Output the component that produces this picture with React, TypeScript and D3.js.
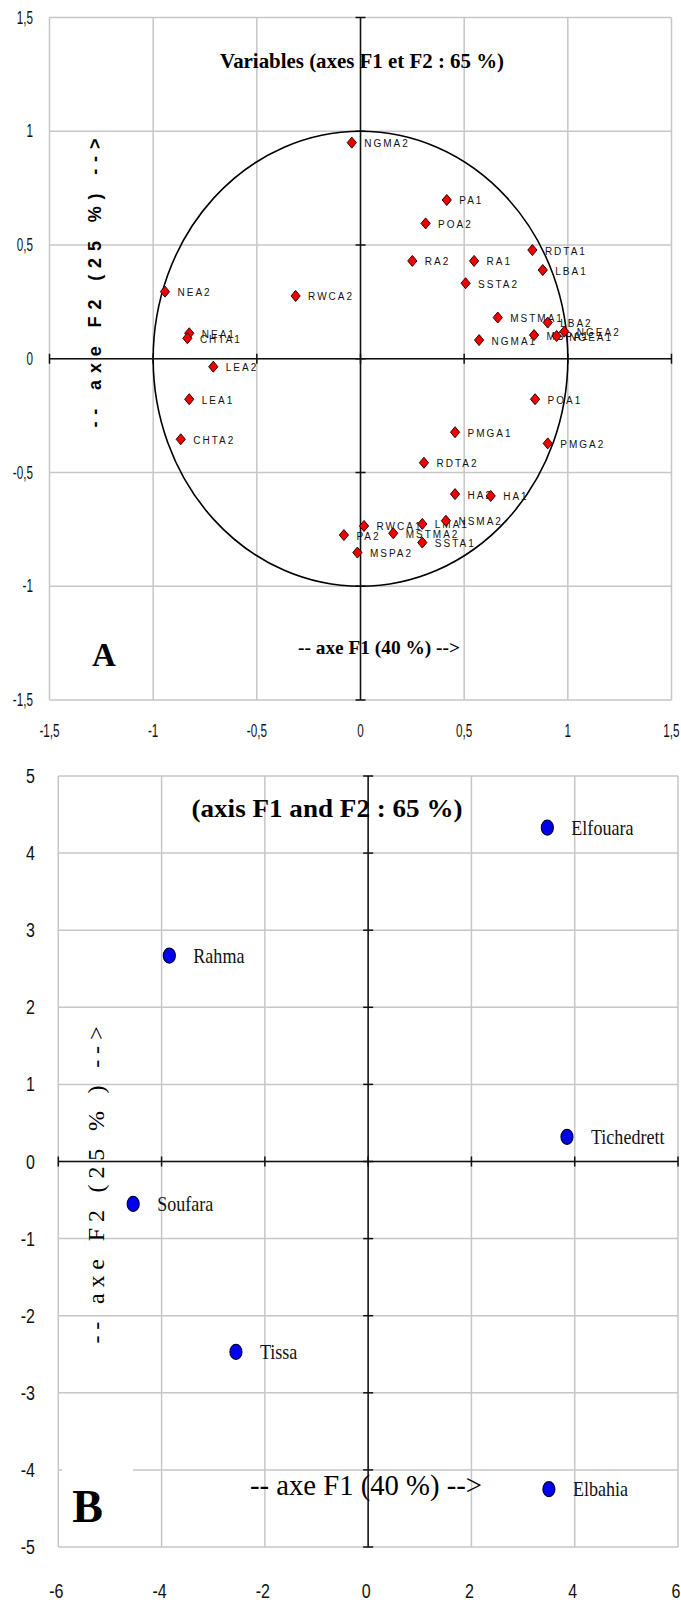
import React from 'react';
import * as d3 from 'd3';

// variables (chart A, correlation circle)
const varNames = ['NGMA2', 'PA1', 'POA2', 'RA2', 'RA1', 'SSTA2', 'RDTA1', 'LBA1', 'MSTMA1', 'LBA2', 'NGMA1', 'MSPA1', 'NGEA1', 'NGEA2', 'POA1', 'PMGA1', 'PMGA2', 'RDTA2', 'HA2', 'HA1', 'RWCA1', 'PA2', 'MSTMA2', 'LMA1', 'NSMA2', 'SSTA1', 'MSPA2', 'NEA2', 'RWCA2', 'NEA1', 'CHTA1', 'LEA2', 'LEA1', 'CHTA2'];
const varF1 = [-0.042, 0.416, 0.314, 0.25, 0.548, 0.507, 0.829, 0.879, 0.662, 0.903, 0.572, 0.837, 0.946, 0.983, 0.842, 0.456, 0.903, 0.306, 0.456, 0.628, 0.017, -0.08, 0.158, 0.298, 0.412, 0.298, -0.015, -0.943, -0.313, -0.826, -0.835, -0.71, -0.826, -0.867];
const varF2 = [0.95, 0.698, 0.595, 0.43, 0.43, 0.332, 0.478, 0.39, 0.181, 0.159, 0.082, 0.104, 0.1, 0.119, -0.178, -0.323, -0.372, -0.457, -0.595, -0.603, -0.735, -0.775, -0.767, -0.726, -0.712, -0.808, -0.852, 0.295, 0.276, 0.112, 0.09, -0.035, -0.178, -0.354];

// sites (chart B)
const siteNames = ['Elfouara', 'Rahma', 'Tichedrett', 'Soufara', 'Tissa', 'Elbahia'];
const siteF1 = [3.47, -3.85, 3.85, -4.55, -2.56, 3.5];
const siteF2 = [4.33, 2.67, 0.32, -0.55, -2.47, -4.25];

const ticksA = [-1.5, -1, -0.5, 0, 0.5, 1, 1.5];
const ticksBx = [-6, -4, -2, 0, 2, 4, 6];
const ticksBy = [-5, -4, -3, -2, -1, 0, 1, 2, 3, 4, 5];

const serif = '"Liberation Serif", "Times New Roman", serif';
const sans = '"Liberation Sans", Arial, sans-serif';
const grid = '#c6c6c6';
const fmt = (d: number) => String(d).replace('.', ',');

const App = () => {
  const xA = d3.scaleLinear().domain([-1.5, 1.5]).range([49.5, 671.5]);
  const yA = d3.scaleLinear().domain([-1.5, 1.5]).range([700, 17.5]);
  const xB = d3.scaleLinear().domain([-6, 6]).range([58.3, 678]);
  const yB = d3.scaleLinear().domain([-5, 5]).range([1547, 776]);

  const vars = varNames.map((n, i) => ({ n, x: varF1[i], y: varF2[i] }));
  const sites = siteNames.map((n, i) => ({ n, x: siteF1[i], y: siteF2[i] }));

  return (
    <div style={{ position: 'absolute', left: 0, top: 0 }}>
      <svg width={681} height={1602} style={{ display: 'block', background: '#fff' }}>
        {/* ---------- chart A ---------- */}
        <g>
          {ticksA.map(t => (
            <line key={'gx' + t} x1={xA(t)} x2={xA(t)} y1={yA(1.5)} y2={yA(-1.5)} stroke={grid} strokeWidth={1.5} />
          ))}
          {ticksA.map(t => (
            <line key={'gy' + t} x1={xA(-1.5)} x2={xA(1.5)} y1={yA(t)} y2={yA(t)} stroke={grid} strokeWidth={1.5} />
          ))}
          {/* axes through origin */}
          <line x1={xA(-1.5)} x2={xA(1.5)} y1={yA(0)} y2={yA(0)} stroke="#111" strokeWidth={1.5} />
          <line x1={xA(0)} x2={xA(0)} y1={yA(1.5)} y2={yA(-1.5)} stroke="#111" strokeWidth={1.5} />
          {ticksA.map(t => (
            <line key={'tx' + t} x1={xA(t)} x2={xA(t)} y1={yA(0) - 5} y2={yA(0) + 5} stroke="#111" strokeWidth={1.5} />
          ))}
          {ticksA.map(t => (
            <line key={'ty' + t} x1={xA(0) - 5} x2={xA(0) + 5} y1={yA(t)} y2={yA(t)} stroke="#111" strokeWidth={1.5} />
          ))}
          {/* unit circle */}
          <ellipse cx={xA(0)} cy={yA(0)} rx={xA(1) - xA(0)} ry={yA(0) - yA(1)} fill="none" stroke="#000" strokeWidth={1.6} />

          {/* tick labels */}
          {ticksA.map(t => (
            <text key={'ly' + t} transform={`translate(33,${yA(t) + 6}) scale(0.65,1)`} textAnchor="end" fontFamily={sans} fontSize={18} fill="#111">{fmt(t)}</text>
          ))}
          {ticksA.map(t => (
            <text key={'lx' + t} transform={`translate(${xA(t)},736.5) scale(0.65,1)`} textAnchor="middle" fontFamily={sans} fontSize={18} fill="#111">{fmt(t)}</text>
          ))}

          {/* variables */}
          {vars.map(v => (
            <g key={v.n} transform={`translate(${xA(v.x)},${yA(v.y)})`}>
              <path d="M0,-5.5L4.6,0L0,5.5L-4.6,0Z" fill="#f00000" stroke="#300" strokeWidth={1} />
              <text x={12.5} y={4.5} fontFamily={sans} fontSize={10} letterSpacing={2} fill="#111">{v.n}</text>
            </g>
          ))}

          <text x={362} y={68} textAnchor="middle" fontFamily={serif} fontWeight="bold" fontSize={22} textLength={284} lengthAdjust="spacingAndGlyphs">Variables (axes F1 et F2 : 65 %)</text>
          <text x={379} y={654} textAnchor="middle" fontFamily={serif} fontWeight="bold" fontSize={19} textLength={162} lengthAdjust="spacingAndGlyphs">-- axe F1 (40 %) --&gt;</text>
          <text transform="translate(95,283) rotate(-90)" textAnchor="middle" dominantBaseline="central" fontFamily={sans} fontWeight="bold" fontSize={18} textLength={289}>-- axe F2 (25 %) --&gt;</text>
          <text x={104} y={666} textAnchor="middle" fontFamily={serif} fontWeight="bold" fontSize={33}>A</text>
        </g>

        {/* ---------- chart B ---------- */}
        <g>
          {ticksBx.map(t => (
            <line key={'gx' + t} x1={xB(t)} x2={xB(t)} y1={yB(5)} y2={yB(-5)} stroke={grid} strokeWidth={1.5} />
          ))}
          {ticksBy.map(t => (
            <line key={'gy' + t} x1={xB(-6)} x2={xB(6)} y1={yB(t)} y2={yB(t)} stroke={grid} strokeWidth={1.5} />
          ))}
          <line x1={xB(-6)} x2={xB(6)} y1={yB(0)} y2={yB(0)} stroke="#111" strokeWidth={1.5} />
          <line x1={xB(0)} x2={xB(0)} y1={yB(5)} y2={yB(-5)} stroke="#111" strokeWidth={1.5} />
          {ticksBx.map(t => (
            <line key={'tx' + t} x1={xB(t)} x2={xB(t)} y1={yB(0) - 5} y2={yB(0) + 5} stroke="#111" strokeWidth={1.5} />
          ))}
          {ticksBy.map(t => (
            <line key={'ty' + t} x1={xB(0) - 5} x2={xB(0) + 5} y1={yB(t)} y2={yB(t)} stroke="#111" strokeWidth={1.5} />
          ))}

          {ticksBy.map(t => (
            <text key={'ly' + t} transform={`translate(35,${yB(t) + 7}) scale(0.8,1)`} textAnchor="end" fontFamily={sans} fontSize={20} fill="#111">{t}</text>
          ))}
          {ticksBx.map(t => (
            <text key={'lx' + t} transform={`translate(${xB(t) - 2},1597.5) scale(0.8,1)`} textAnchor="middle" fontFamily={sans} fontSize={20} fill="#111">{t}</text>
          ))}

          {sites.map(s => (
            <g key={s.n} transform={`translate(${xB(s.x)},${yB(s.y)})`}>
              <ellipse rx={6} ry={7.5} fill="#0000f0" stroke="#000040" strokeWidth={1.2} />
              <text transform="translate(24,7) scale(0.82,1)" fontFamily={serif} fontSize={22} fill="#111">{s.n}</text>
            </g>
          ))}

          <text x={327} y={817} textAnchor="middle" fontFamily={serif} fontWeight="bold" fontSize={25} textLength={271} lengthAdjust="spacingAndGlyphs">(axis F1 and F2 : 65 %)</text>
          <text x={366} y={1495} textAnchor="middle" fontFamily={serif} fontSize={29} textLength={232} lengthAdjust="spacingAndGlyphs">-- axe F1 (40 %) --&gt;</text>
          <text transform="translate(96,1185) rotate(-90)" textAnchor="middle" dominantBaseline="central" fontFamily={serif} fontSize={24} textLength={317}>-- axe F2 (25 % ) --&gt;</text>
          <rect x={62} y={1465} width={71} height={64} fill="#fff" />
          <text x={87.5} y={1522} textAnchor="middle" fontFamily={serif} fontWeight="bold" fontSize={46}>B</text>
        </g>
      </svg>
    </div>
  );
};

export default App;
